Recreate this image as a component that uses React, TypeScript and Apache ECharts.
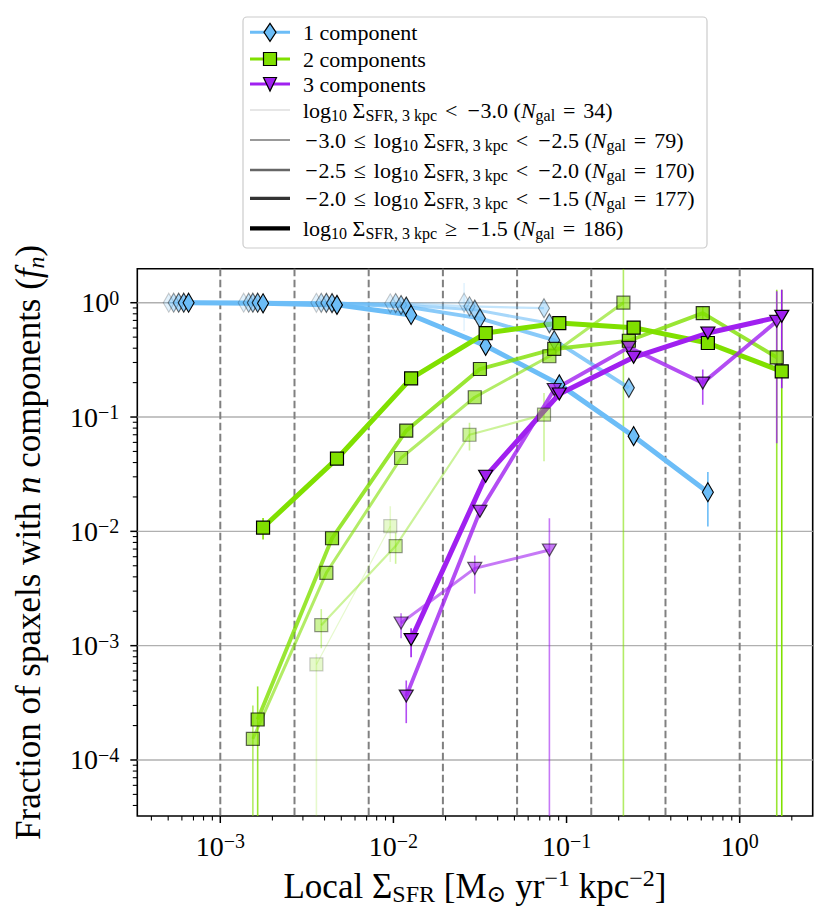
import React, { useEffect, useRef } from "react";
import * as echarts from "echarts";

const FONT = "Liberation Serif, DejaVu Serif, serif";

// Axis ranges (log10 space read from the frame)
const X_MIN = 3.316e-4;
const X_MAX = 2.641;
const Y_MIN = 3.236e-5;
const Y_MAX = 1.984;

// Tick positions
const xTicksMajor = [1e-3, 1e-2, 1e-1, 1];
const yTicksMajor = [1e-4, 1e-3, 1e-2, 1e-1, 1];
const xTicksMinor = [
  4e-4, 5e-4, 6e-4, 7e-4, 8e-4, 9e-4,
  2e-3, 3e-3, 4e-3, 5e-3, 6e-3, 7e-3, 8e-3, 9e-3,
  2e-2, 3e-2, 4e-2, 5e-2, 6e-2, 7e-2, 8e-2, 9e-2,
  0.2, 0.3, 0.4, 0.5, 0.6, 0.7, 0.8, 0.9,
  2,
];
const yTicksMinor = [
  4e-5, 5e-5, 6e-5, 7e-5, 8e-5, 9e-5,
  2e-4, 3e-4, 4e-4, 5e-4, 6e-4, 7e-4, 8e-4, 9e-4,
  2e-3, 3e-3, 4e-3, 5e-3, 6e-3, 7e-3, 8e-3, 9e-3,
  2e-2, 3e-2, 4e-2, 5e-2, 6e-2, 7e-2, 8e-2, 9e-2,
  0.2, 0.3, 0.4, 0.5, 0.6, 0.7, 0.8, 0.9,
];
// Local Sigma_SFR bin edges (dashed lines)
const binEdges = [1e-3, 2.683e-3, 7.197e-3, 1.931e-2, 5.179e-2, 0.1389, 0.3728, 1.0];

// x positions (local Sigma_SFR) for each Sigma_SFR,3kpc bin
const xBin0 = [5.04e-4, 1.365e-3, 3.59e-3, 9.59e-3, 2.56e-2];
const xBin1 = [5.38e-4, 1.459e-3, 3.83e-3, 1.03e-2, 2.75e-2, 7.41e-2];
const xBin2 = [5.75e-4, 1.542e-3, 4.1e-3, 1.107e-2, 2.95e-2, 7.96e-2, 0.213];
const xBin3 = [6.15e-4, 1.644e-3, 4.42e-3, 1.186e-2, 3.16e-2, 8.49e-2, 0.229, 0.612, 1.637];
const xBin4 = [6.56e-4, 1.766e-3, 4.72e-3, 1.265e-2, 3.41e-2, 9.08e-2, 0.244, 0.655, 1.75];

// fraction with 1 component
const f1Bin0 = [1.0, 1.0, 0.999, 0.989, 1.0];
const f1Bin1 = [1.0, 1.0, 0.998, 0.993, 0.93, 0.895];
const f1Bin2 = [1.0, 1.0, 0.996, 0.955, 0.87, 0.66, null];
const f1Bin3 = [1.0, 1.0, 0.991, 0.925, 0.73, 0.47, 0.18, null, null];
const f1Bin4 = [1.0, 0.989, 0.957, 0.781, 0.42, 0.193, 0.068, 0.022, null];
// fraction with 2 components
const f2Bin0 = [null, null, 6.85e-4, 0.0111, null];
const f2Bin1 = [null, null, 1.51e-3, 7.43e-3, 0.07, 0.105];
const f2Bin2 = [null, 1.53e-4, 4.34e-3, 0.0438, 0.149, 0.34, 1.0];
const f2Bin3 = [null, 2.26e-4, 8.7e-3, 0.0759, 0.263, 0.394, 0.465, 0.81, 0.333];
const f2Bin4 = [null, 0.0108, 0.0432, 0.218, 0.543, 0.664, 0.605, 0.444, 0.251];
// fraction with 3 components
const f3Bin0: (number | null)[] = [];
const f3Bin1: (number | null)[] = [];
const f3Bin2 = [null, null, null, 1.58e-3, 4.74e-3, 6.86e-3, null];
const f3Bin3 = [null, null, null, 3.62e-4, 0.015, 0.174, 0.407, 0.198, 0.687];
const f3Bin4 = [null, null, null, 1.13e-3, 0.0303, 0.159, 0.333, 0.543, 0.76];

// error bars [low, high] (low 0 = reaches the bottom)
const e1Bin0 = [null, null, null, null, [0.565, 1.49]];
const e1Bin1: any[] = [];
const e1Bin2: any[] = [];
const e1Bin3: any[] = [];
const e1Bin4 = [null, null, null, null, null, null, null, [0.011, 0.033]];
const e2Bin0 = [null, null, [0, 8.5e-4], [5.4e-3, 0.0166]];
const e2Bin1 = [null, null, [9.5e-4, 2.09e-3], [5.2e-3, 9.7e-3], [0.051, 0.089], [0.041, 0.162]];
const e2Bin2 = [null, [0, 3.0e-4], null, null, null, null, [0, 3]];
const e2Bin3 = [null, [0, 4.4e-4], null, null, null, null, null, [0.72, 0.92], [0, 1.3]];
const e2Bin4 = [null, [8.5e-3, 0.0131], null, null, null, null, null, null, [0, 1.3]];
const e3Bin0: any[] = [];
const e3Bin1: any[] = [];
const e3Bin2 = [null, null, null, [1.16e-3, 1.92e-3], [2.85e-3, 6.15e-3], [0, 0.013]];
const e3Bin3 = [null, null, null, [2.1e-4, 4.96e-4], null, null, null, [0.128, 0.26], [0.059, 1.26]];
const e3Bin4 = [null, null, null, [7.9e-4, 1.42e-3], null, null, null, null, [0.179, 1.3]];

// legend texts
const compLabels = ["1 component", "2 components", "3 components"];
const binLower = ["", "−3.0 ≤ ", "−2.5 ≤ ", "−2.0 ≤ ", ""];
const binUpper = ["< −3.0", "< −2.5", "< −2.0", "< −1.5", "≥ −1.5"];
const binNgal = [34, 79, 170, 177, 186];

const BLUE = "#6CBDF7";
const GREEN = "#80E000";
const PURPLE = "#A020F0";
const ALPHA = [0.2, 0.4, 0.6, 0.8, 1.0];
const LW = [1.2, 2.2, 3.0, 3.9, 5.0];

const xBins = [xBin0, xBin1, xBin2, xBin3, xBin4];
const comps = [
  { color: BLUE, symbol: "diamond", size: [11, 19], rotate: 0, ys: [f1Bin0, f1Bin1, f1Bin2, f1Bin3, f1Bin4], errs: [e1Bin0, e1Bin1, e1Bin2, e1Bin3, e1Bin4] },
  { color: GREEN, symbol: "rect", size: [13, 13], rotate: 0, ys: [f2Bin0, f2Bin1, f2Bin2, f2Bin3, f2Bin4], errs: [e2Bin0, e2Bin1, e2Bin2, e2Bin3, e2Bin4] },
  { color: PURPLE, symbol: "triangle", size: [14, 12], rotate: 180, ys: [f3Bin0, f3Bin1, f3Bin2, f3Bin3, f3Bin4], errs: [e3Bin0, e3Bin1, e3Bin2, e3Bin3, e3Bin4] },
];

function powLabel(v: number) {
  const e = Math.log10(v);
  const r = Math.round(e);
  if (Math.abs(e - r) > 1e-6) return "";
  const exp = r < 0 ? "\u2212" + Math.abs(r) : String(r);
  return `{b|10}{s|${exp}}`;
}

const richTick = {
  b: { fontFamily: FONT, fontSize: 28, lineHeight: 30, color: "#000" },
  s: { fontFamily: FONT, fontSize: 20, lineHeight: 17, verticalAlign: "top", color: "#000" },
};

// wrap plain text into rich tokens, giving math operators their wider spacing
function mathify(s: string) {
  return ("{t|" + s.replace(/([≤<≥=])/g, "}{op|$1}{t|").replace(/−/g, "}{mi|−}{t|") + "}").replace(/\{t\|\}/g, "");
}

function tickSeries(values: number[], axis: "x" | "y", len: number, width: number) {
  return {
    type: "custom",
    silent: true,
    clip: false,
    z: 10,
    encode: { x: 0, y: 1 },
    data: values.map((v) => (axis === "x" ? [v, 0.01] : [0.01, v])),
    renderItem: (params: any, api: any) => {
      const cs = params.coordSys;
      const p = api.coord([api.value(0), api.value(1)]);
      if (axis === "x") {
        const y0 = cs.y + cs.height;
        return { type: "line", shape: { x1: p[0], y1: y0, x2: p[0], y2: y0 + len }, style: { stroke: "#000", lineWidth: width } };
      }
      const x0 = cs.x;
      return { type: "line", shape: { x1: x0 - len, y1: p[1], x2: x0, y2: p[1] }, style: { stroke: "#000", lineWidth: width } };
    },
  };
}

function buildSeries() {
  const series: any[] = [];
  // horizontal grid lines
  series.push({
    type: "custom",
    silent: true,
    encode: { x: 0, y: 1 },
    data: yTicksMajor.map((v) => [0.01, v]),
    renderItem: (params: any, api: any) => {
      const cs = params.coordSys;
      const p = api.coord([api.value(0), api.value(1)]);
      return { type: "line", shape: { x1: cs.x, y1: p[1], x2: cs.x + cs.width, y2: p[1] }, style: { stroke: "#b0b0b0", lineWidth: 1.4 } };
    },
  });
  // dashed bin edges
  series.push({
    type: "custom",
    silent: true,
    encode: { x: 0, y: 1 },
    data: binEdges.map((v) => [v, 0.01]),
    renderItem: (params: any, api: any) => {
      const cs = params.coordSys;
      const p = api.coord([api.value(0), api.value(1)]);
      return { type: "line", shape: { x1: p[0], y1: cs.y, x2: p[0], y2: cs.y + cs.height }, style: { stroke: "#808080", lineWidth: 2, lineDash: [7.5, 3.5] } };
    },
  });
  comps.forEach((c) => {
    for (let b = 0; b < 5; b++) {
      const xs = xBins[b];
      const ys = c.ys[b];
      const errs = c.errs[b];
      const errData: any[] = [];
      xs.forEach((x, i) => {
        const e = errs[i];
        if (e) errData.push([x, Math.max(e[0], Y_MIN), Math.min(e[1], Y_MAX)]);
      });
      if (errData.length) {
        const alpha = ALPHA[b];
        const color = c.color;
        series.push({
          type: "custom",
          silent: true,
          clip: true,
          encode: { x: 0, y: [1, 2] },
          data: errData,
          renderItem: (params: any, api: any) => {
            const x = api.value(0);
            const p1 = api.coord([x, api.value(1)]);
            const p2 = api.coord([x, api.value(2)]);
            return { type: "line", shape: { x1: p1[0], y1: p1[1], x2: p2[0], y2: p2[1] }, style: { stroke: color, lineWidth: 1.6, opacity: alpha } };
          },
        });
      }
      const data = xs.map((x, i) => {
        const y = ys[i];
        return [x, y === null || y === undefined ? "-" : y];
      });
      if (!ys.some((y) => y !== null && y !== undefined)) continue;
      series.push({
        type: "line",
        silent: true,
        data,
        symbol: c.symbol,
        symbolSize: c.size,
        symbolRotate: c.rotate,
        showSymbol: true,
        connectNulls: false,
        lineStyle: { color: c.color, width: LW[b], opacity: ALPHA[b] },
        itemStyle: { color: c.color, borderColor: "#000", borderWidth: 1.2, opacity: ALPHA[b] },
        emphasis: { disabled: true },
      });
    }
  });
  series.push(tickSeries(xTicksMajor, "x", 7, 1.5));
  series.push(tickSeries(xTicksMinor, "x", 4.5, 1.1));
  series.push(tickSeries(yTicksMajor, "y", 7, 1.5));
  series.push(tickSeries(yTicksMinor, "y", 4.5, 1.1));
  return series;
}

function buildLegend() {
  const L = 243, T = 17, W = 464, H = 231;
  const rowsY = [32.3, 59, 84, 110, 140, 170, 198.3, 228.3];
  const hx1 = 250, hx2 = 290, hc = 270, tx = 303;
  const FS = 22;
  const rich = {
    t: { font: `${FS}px ${FONT}`, fontFamily: FONT, fontSize: FS, lineHeight: 26, fill: "#000" },
    op: { font: `${FS}px ${FONT}`, fontFamily: FONT, fontSize: FS, lineHeight: 26, fill: "#000", padding: [0, 2.4, 0, 2.4] },
    mi: { font: `${FS}px ${FONT}`, fontFamily: FONT, fontSize: FS, lineHeight: 26, fill: "#000", padding: [0, 0.8, 0, 2.2] },
    i: { font: `italic ${FS}px ${FONT}`, fontFamily: FONT, fontSize: FS, lineHeight: 26, fontStyle: "italic", fill: "#000" },
    sb: { font: `16px ${FONT}`, fontFamily: FONT, fontSize: 16, lineHeight: 13, verticalAlign: "bottom", fill: "#000" },
  };
  const children: any[] = [
    { type: "rect", shape: { x: L, y: T, width: W, height: H, r: 4 }, style: { fill: "rgba(255,255,255,0.8)", stroke: "#cccccc", lineWidth: 1.2 } },
  ];
  const compColors = [BLUE, GREEN, PURPLE];
  compColors.forEach((col, k) => {
    const y = rowsY[k];
    children.push({ type: "line", shape: { x1: hx1, y1: y, x2: hx2, y2: y }, style: { stroke: col, lineWidth: 3 } });
    const mstyle = { fill: col, stroke: "#000", lineWidth: 1.2 };
    if (k === 0) children.push({ type: "polygon", shape: { points: [[hc, y - 9], [hc + 6, y], [hc, y + 9], [hc - 6, y]] }, style: mstyle });
    if (k === 1) children.push({ type: "rect", shape: { x: hc - 6.5, y: y - 6.5, width: 13, height: 13 }, style: mstyle });
    if (k === 2) children.push({ type: "polygon", shape: { points: [[hc - 6.5, y - 6.5], [hc + 6.5, y - 6.5], [hc, y + 7]] }, style: mstyle });
    children.push({ type: "text", style: { text: `{t|${compLabels[k]}}`, x: tx, y, verticalAlign: "middle", align: "left", rich, font: `${FS}px ${FONT}`, fontFamily: FONT, fontSize: FS, fill: "#000" } });
  });
  for (let b = 0; b < 5; b++) {
    const y = rowsY[3 + b];
    children.push({ type: "line", shape: { x1: hx1, y1: y, x2: hx2, y2: y }, style: { stroke: "#000", opacity: ALPHA[b], lineWidth: LW[b] * 0.85 } });
    const txt =
      mathify(binLower[b] + "log") + "{sb|10}" + mathify(" Σ") + "{sb|SFR, 3 kpc}" +
      mathify(` ${binUpper[b]} (`) + "{i|N}{sb|gal}" + mathify(` = ${binNgal[b]})`);
    children.push({ type: "text", style: { text: txt, x: tx, y, verticalAlign: "middle", align: "left", rich, font: `${FS}px ${FONT}`, fontFamily: FONT, fontSize: FS, fill: "#000" } });
  }
  return [{ type: "group", children }];
}

function buildOption() {
  return {
    animation: false,
    textStyle: { fontFamily: FONT },
    grid: { left: 137.3, right: 17.3, top: 268.7, bottom: 108, show: true, borderColor: "#000", borderWidth: 1.6, backgroundColor: "transparent" },
    xAxis: {
      type: "log",
      logBase: 10,
      min: X_MIN,
      max: X_MAX,
      axisLine: { show: false },
      axisTick: { show: false },
      minorTick: { show: false },
      splitLine: { show: false },
      axisLabel: { customValues: xTicksMajor, formatter: powLabel, rich: richTick, margin: 15, fontFamily: FONT, fontSize: 28, color: "#000" },
      name: "{t|Local Σ}{sb|SFR}{t| [M}{sb|⊙}{t| yr}{sp|−1}{t| kpc}{sp|−2}{t|]}",
      nameLocation: "middle",
      nameGap: 50,
      nameTextStyle: {
        fontFamily: FONT,
        fontSize: 35,
        color: "#000",
        rich: {
          t: { fontFamily: FONT, fontSize: 35, lineHeight: 40, color: "#000" },
          sb: { fontFamily: FONT, fontSize: 24, lineHeight: 20, verticalAlign: "bottom", color: "#000" },
          sp: { fontFamily: FONT, fontSize: 24, lineHeight: 20, verticalAlign: "top", color: "#000" },
        },
      },
    },
    yAxis: {
      type: "log",
      logBase: 10,
      min: Y_MIN,
      max: Y_MAX,
      axisLine: { show: false },
      axisTick: { show: false },
      minorTick: { show: false },
      splitLine: { show: false },
      axisLabel: { customValues: yTicksMajor, formatter: powLabel, rich: richTick, margin: 18, fontFamily: FONT, fontSize: 28, color: "#000" },
      name: "{t|Fraction of spaxels with }{i|n}{t| components (}{i|f}{is|n}{t|)}",
      nameLocation: "middle",
      nameRotate: 90,
      nameGap: 89,
      nameTextStyle: {
        fontFamily: FONT,
        fontSize: 35,
        color: "#000",
        rich: {
          t: { fontFamily: FONT, fontSize: 35, lineHeight: 40, color: "#000" },
          i: { fontFamily: FONT, fontSize: 35, lineHeight: 40, fontStyle: "italic", color: "#000" },
          is: { fontFamily: FONT, fontSize: 24, lineHeight: 20, fontStyle: "italic", verticalAlign: "bottom", color: "#000" },
        },
      },
    },
    series: buildSeries(),
    graphic: buildLegend(),
  };
}

export default function App() {
  const ref = useRef<HTMLDivElement>(null);
  useEffect(() => {
    const chart = echarts.init(ref.current as HTMLDivElement, null, { renderer: "svg" });
    chart.setOption(buildOption() as any);
    return () => chart.dispose();
  }, []);
  return <div ref={ref} style={{ position: "absolute", left: 0, top: 0, width: 830, height: 924 }} />;
}
